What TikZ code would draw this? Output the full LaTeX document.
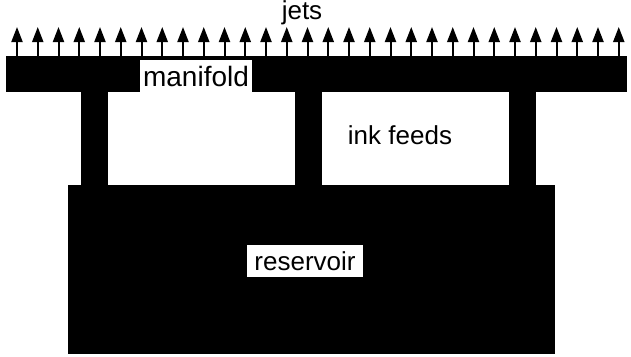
\documentclass[tikz,border=0pt]{standalone}
\usepackage{fontspec}
\setmainfont{Liberation Sans}
\usetikzlibrary{arrows.meta}
\begin{document}
\begin{tikzpicture}[x=1pt,y=-1pt,
  solid/.style={fill=black,draw=none},
  lbl/.style={fill=white,inner sep=0pt,font=\fontsize{26}{30}\selectfont},
  jet/.style={line width=2pt,-{Triangle[length=15pt,width=11pt]}}]
\useasboundingbox (0,0) rectangle (631,356);
% manifold bar
\path[solid] (6,56) rectangle (627,92);
% posts (ink feeds)
\path[solid] (81,91) rectangle (108,186);
\path[solid] (295,91) rectangle (322,186);
\path[solid] (509,91) rectangle (536,186);
% reservoir
\path[solid] (68,185) rectangle (555,354);
% jets
\foreach \i in {0,...,29}{
  \coordinate (b\i) at ({17+20.75*\i},57);
  \coordinate (t\i) at ({17+20.75*\i},27);
  \draw[jet] (b\i) -- (t\i);
}
% labels
\node[lbl,font=\fontsize{28}{32}\selectfont,minimum width=112pt,minimum height=32pt] (manifold) at (196,76) {manifold};
\node[lbl,minimum width=116pt,minimum height=32pt] (reservoir) at (305,261) {reservoir};
\node[lbl,fill=none] (jets) at (302,13) {jets};
\node[lbl,fill=none] (inkfeeds) at (400,135) {ink feeds};
\end{tikzpicture}
\end{document}
